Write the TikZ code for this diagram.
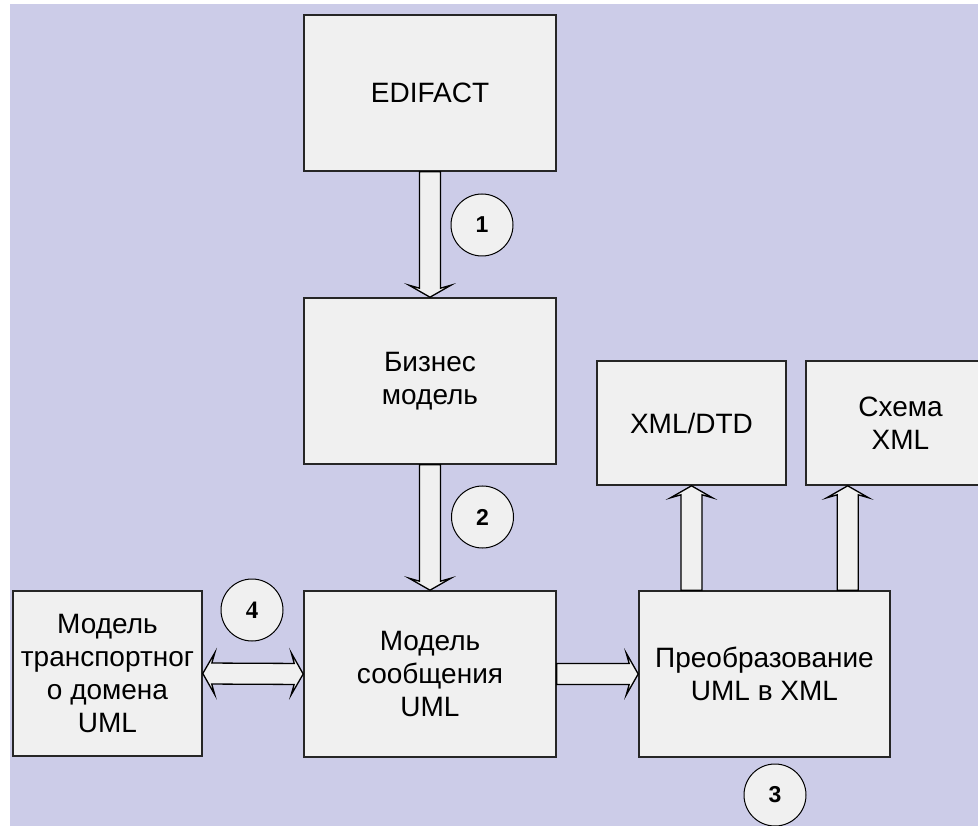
\documentclass[tikz,border=0pt]{standalone}
\usepackage{fontspec}
\setmainfont{Liberation Sans}
\newfontfamily\numserif{Liberation Serif}
\usetikzlibrary{calc}
\definecolor{lavender}{RGB}{204,204,232}
\definecolor{boxgray}{RGB}{240,240,240}

% hollow block arrow from #1 to #2
\newcommand\fatarrow[2]{%
  \filldraw[fat] let \p1=(#1), \p2=(#2), \n1={atan2(\y2-\y1,\x2-\x1)}, \n2={veclen(\x2-\x1,\y2-\y1)} in
    [shift={(\p1)},rotate=\n1] (0pt,-10.5pt) -- ({\n2*1pt-9pt},-10.5pt) -- ({\n2*1pt-12pt},-21pt)
    -- ({\n2*1pt},0pt) -- ({\n2*1pt-12pt},21pt) -- ({\n2*1pt-9pt},10.5pt) -- (0pt,10.5pt) -- cycle;}
% same, heads at both ends
\newcommand\fatdarrow[2]{%
  \filldraw[fat] let \p1=(#1), \p2=(#2), \n1={atan2(\y2-\y1,\x2-\x1)}, \n2={veclen(\x2-\x1,\y2-\y1)} in
    [shift={(\p1)},rotate=\n1] (9pt,-10.5pt) -- ({\n2*1pt-9pt},-10.5pt) -- ({\n2*1pt-12pt},-21pt)
    -- ({\n2*1pt},0pt) -- ({\n2*1pt-12pt},21pt) -- ({\n2*1pt-9pt},10.5pt) -- (9pt,10.5pt)
    -- (12pt,21pt) -- (0pt,0pt) -- (12pt,-21pt) -- cycle;}

\begin{document}
\begin{tikzpicture}[x=1pt,y=-1pt,
  box/.style={rectangle,draw=black!85,line width=1.6pt,fill=boxgray,align=center,inner sep=0pt,
    font=\fontsize{28}{33}\selectfont},
  num/.style={circle,draw=black,line width=1pt,fill=boxgray,minimum size=62pt,inner sep=0pt,
    font=\bfseries\fontsize{23}{23}\selectfont},
  fat/.style={fill=boxgray,draw=black,line width=1.3pt,line join=miter}
  ]
    \useasboundingbox (0,0) rectangle (978,826);
    \fill[lavender] (10,4) rectangle (978,826);

    \node[box,minimum width=252pt,minimum height=156pt] (edi) at (430,93) {EDIFACT};
    \node[box,minimum width=252pt,minimum height=166pt] (biz) at (430,381) {Бизнес\\модель};
    \node[box,minimum width=252pt,minimum height=166pt] (msg) at (430,674) {Модель\\сообщения\\UML};
    \node[box,minimum width=189pt,minimum height=165pt] (trans) at (107.5,673.5) {Модель\\транспортног\\о домена\\UML};
    \node[box,minimum width=251pt,minimum height=166pt] (conv) at (764.5,674) {Преобразование\\UML в XML};
    \node[box,minimum width=189pt,minimum height=124pt] (dtd) at (691.5,423) {XML/DTD};
    \node[box,minimum width=189pt,minimum height=124pt] (xsd) at (900.5,423) {Схема\\XML};
    \coordinate (xsdin) at ([xshift=42.5pt]xsd.south west);

    \fatarrow{edi.south}{biz.north}
    \fatarrow{biz.south}{msg.north}
    \fatarrow{msg.east}{conv.west}
    \fatdarrow{trans.east}{msg.west}
    \fatarrow{conv.north -| dtd.south}{dtd.south}
    \fatarrow{xsdin |- conv.north}{xsdin}

    \node[num] (n1) at (482,225) {1};
    \node[num] (n2) at (482.5,517) {2};
    \node[num] (n3) at (775,795) {3};
    \node[num,font=\numserif\bfseries\fontsize{25}{25}\selectfont] (n4) at (252,610) {4};
\end{tikzpicture}
\end{document}
